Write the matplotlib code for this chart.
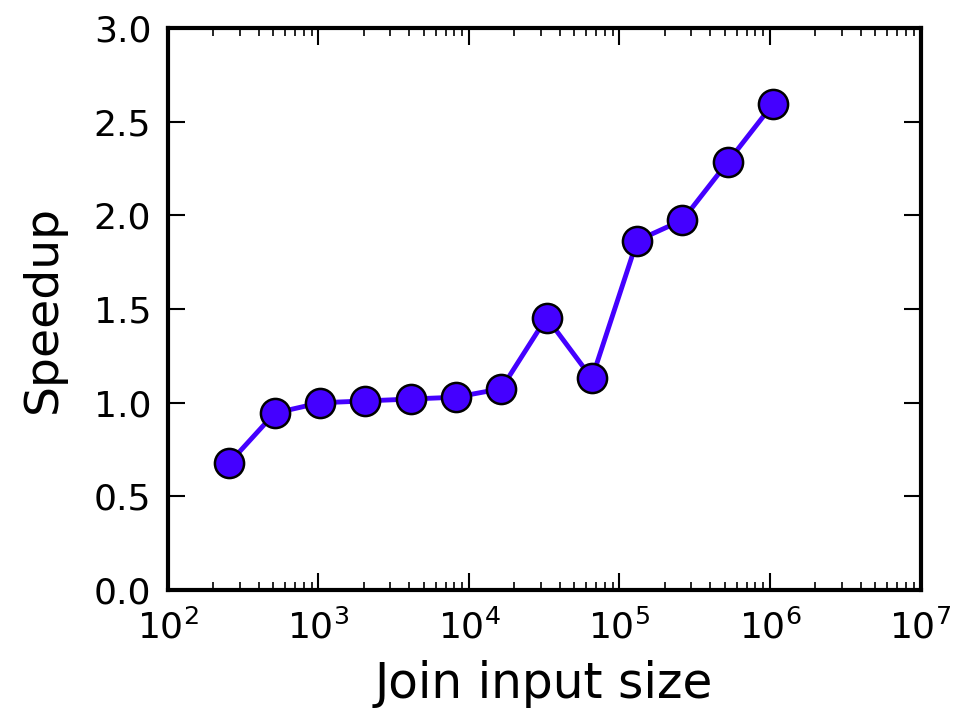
import matplotlib
matplotlib.use("Agg")
import matplotlib.pyplot as plt
import numpy as np

# join input sizes (2^8 .. 2^20) and measured speedup
sizes = [2 ** k for k in range(8, 21)]
speedup = [0.68, 0.945, 1.00, 1.01, 1.02, 1.03, 1.075, 1.455, 1.13, 1.865, 1.975, 2.285, 2.595]

LINE_COLOR = "#4400ff"

fig = plt.figure(figsize=(9.71, 7.18), dpi=100)
ax = fig.add_axes([0.173, 0.178, 0.775, 0.783])

ax.plot(sizes, speedup, color=LINE_COLOR, lw=3.5, marker="o", ms=21,
        mfc=LINE_COLOR, mec="black", mew=1.8, zorder=3)

ax.set_xscale("log")
ax.set_xlim(1e2, 1e7)
ax.set_ylim(0, 3.0)
ax.set_yticks(np.arange(0, 3.01, 0.5))
ax.set_yticklabels([f"{v:.1f}" for v in np.arange(0, 3.01, 0.5)])

for s in ax.spines.values():
    s.set_linewidth(3)
ax.tick_params(which="both", direction="in", top=True, right=True,
               labelsize=26, width=1.5)
ax.tick_params(axis="y", pad=12)
ax.tick_params(axis="x", pad=14)
ax.tick_params(which="major", length=12)
ax.tick_params(which="minor", length=5.5, width=1.2)

ax.set_xlabel("Join input size", fontsize=35, labelpad=10)
ax.set_ylabel("Speedup", fontsize=34, labelpad=20)

fig.savefig("out.png", dpi=100)
